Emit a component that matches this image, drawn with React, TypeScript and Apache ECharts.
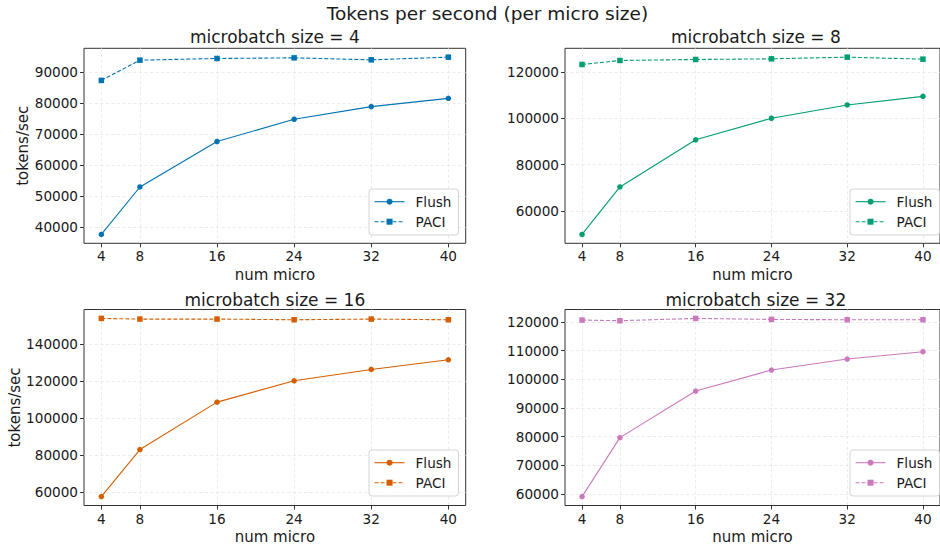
import React, { useEffect, useRef } from "react";
import * as echarts from "echarts";

// ---------- data ----------
const numMicro = [4, 8, 16, 24, 32, 40];
const xTicks = [4, 8, 16, 24, 32, 40];
const microSizes = [4, 8, 16, 32];
const flush4 = [37640, 52980, 67680, 74870, 78950, 81630];
const paci4 = [87430, 93970, 94510, 94720, 94080, 94940];
const flush8 = [50000, 70430, 90710, 100000, 105710, 109430];
const paci8 = [123140, 124860, 125290, 125570, 126290, 125430];
const flush16 = [57660, 83010, 108540, 120050, 126160, 131370];
const paci16 = [153660, 153300, 153300, 152940, 153300, 152940];
const flush32 = [59070, 79650, 95930, 103260, 107090, 109650];
const paci32 = [120700, 120470, 121280, 120930, 120810, 120810];
const yTicks4 = [40000, 50000, 60000, 70000, 80000, 90000];
const yTicks8 = [60000, 80000, 100000, 120000];
const yTicks16 = [60000, 80000, 100000, 120000, 140000];
const yTicks32 = [60000, 70000, 80000, 90000, 100000, 110000, 120000];
const colors = ["#0173b2", "#029e73", "#d55e00", "#cc78bc"];
const seriesNames = ["Flush", "PACI"];
const mainTitle = "Tokens per second (per micro size)";
const xLabel = "num micro";
const yLabel = "tokens/sec";

const flushAll = [flush4, flush8, flush16, flush32];
const paciAll = [paci4, paci8, paci16, paci32];
const yTicksAll = [yTicks4, yTicks8, yTicks16, yTicks32];

const FONT = "DejaVu Sans";
const TXT = "#1a1a1a";
const SPINE = "#333333";

// layout of the four panels
const panels = [
  { left: 84, top: 48.3, height: 195, legLeft: 369, legTop: 189, yNameGap: 38.5, showYName: true },
  { left: 565, top: 48.3, height: 195, legLeft: 850, legTop: 189, yNameGap: 50, showYName: false },
  { left: 84, top: 309.5, height: 196, legLeft: 369, legTop: 450, yNameGap: 55.5, showYName: true },
  { left: 565, top: 309.5, height: 196, legLeft: 850, legTop: 450, yNameGap: 50, showYName: false },
];
const PANEL_W = 381.7;

function margins(vals: number[]) {
  const lo = Math.min(...vals);
  const hi = Math.max(...vals);
  const m = (hi - lo) * 0.05;
  return [lo - m, hi + m];
}

export default function App() {
  const ref = useRef<HTMLDivElement>(null);
  useEffect(() => {
    if (!ref.current) return;
    const chart = echarts.init(ref.current, undefined, { renderer: "svg" });
    const [xmin, xmax] = margins(numMicro);

    const grid: any[] = [];
    const xAxis: any[] = [];
    const yAxis: any[] = [];
    const series: any[] = [];
    const legend: any[] = [];
    const graphic: any[] = [];

    graphic.push({
      type: "text",
      x: 487.5,
      y: 13,
      style: {
        text: mainTitle,
        font: `18.5px "${FONT}"`,
        fill: TXT,
        textAlign: "center",
        textVerticalAlign: "middle",
      },
    });

    panels.forEach((p, i) => {
      const [ymin, ymax] = margins([...flushAll[i], ...paciAll[i]]);
      grid.push({
        left: p.left,
        top: p.top,
        width: PANEL_W,
        height: p.height,
        show: true,
        borderColor: SPINE,
        borderWidth: 1,
        backgroundColor: "transparent",
        containLabel: false,
      });
      const splitLine = {
        show: true,
        lineStyle: { color: "#e6e6e6", width: 0.8, type: [3, 2.5] },
      };
      xAxis.push({
        type: "value",
        gridIndex: i,
        min: xmin,
        max: xmax,
        axisLine: { show: false },
        axisTick: {
          show: true,
          length: 4,
          customValues: xTicks,
          lineStyle: { color: SPINE, width: 1 },
        },
        axisLabel: {
          customValues: xTicks,
          margin: 6,
          fontFamily: FONT,
          fontSize: 13.6,
          color: TXT,
          formatter: (v: number) => String(v),
        },
        splitLine,
        name: xLabel,
        nameLocation: "middle",
        nameGap: 24,
        nameTextStyle: { fontFamily: FONT, fontSize: 15, color: TXT },
      });
      yAxis.push({
        type: "value",
        gridIndex: i,
        min: ymin,
        max: ymax,
        axisLine: { show: false },
        axisTick: {
          show: true,
          length: 4,
          customValues: yTicksAll[i],
          lineStyle: { color: SPINE, width: 1 },
        },
        axisLabel: {
          customValues: yTicksAll[i],
          margin: 6,
          fontFamily: FONT,
          fontSize: 13.6,
          color: TXT,
          formatter: (v: number) => String(Math.round(v)),
        },
        splitLine,
        name: p.showYName ? yLabel : "",
        nameLocation: "middle",
        nameGap: p.yNameGap,
        nameTextStyle: { fontFamily: FONT, fontSize: 15, color: TXT },
      });
      const mb = microSizes[i];
      const c = colors[i];
      series.push({
        type: "line",
        name: `${seriesNames[0]}@${mb}`,
        xAxisIndex: i,
        yAxisIndex: i,
        data: numMicro.map((x, j) => [x, flushAll[i][j]]),
        symbol: "circle",
        symbolSize: 5.5,
        showAllSymbol: true,
        lineStyle: { color: c, width: 1.1, type: "solid" },
        itemStyle: { color: c },
        emphasis: { disabled: true },
      });
      series.push({
        type: "line",
        name: `${seriesNames[1]}@${mb}`,
        xAxisIndex: i,
        yAxisIndex: i,
        data: numMicro.map((x, j) => [x, paciAll[i][j]]),
        symbol: "rect",
        symbolSize: 5.5,
        showAllSymbol: true,
        lineStyle: { color: c, width: 1.1, type: [4, 2] },
        itemStyle: { color: c },
        emphasis: { disabled: true },
      });
      legend.push({
        orient: "vertical",
        left: p.legLeft,
        top: p.legTop,
        data: [`${seriesNames[0]}@${mb}`, `${seriesNames[1]}@${mb}`],
        formatter: (n: string) => n.split("@")[0],
        itemWidth: 30,
        itemHeight: 7.5,
        itemGap: 6,
        padding: [5.7, 7, 6.3, 5],
        borderColor: "#d4d4d4",
        borderWidth: 1,
        borderRadius: 3,
        backgroundColor: "rgba(255,255,255,0.85)",
        selectedMode: false,
        lineStyle: { width: 1.1 },
        textStyle: {
          fontFamily: FONT,
          fontSize: 13.6,
          lineHeight: 14,
          color: TXT,
          padding: [0, 0, 0, 6],
        },
      });
      graphic.push({
        type: "text",
        x: p.left + PANEL_W / 2,
        y: i < 2 ? 36.7 : 300,
        style: {
          text: `microbatch size = ${mb}`,
          font: `17px "${FONT}"`,
          fill: TXT,
          textAlign: "center",
          textVerticalAlign: "middle",
        },
      });
    });

    chart.setOption({
      animation: false,
      backgroundColor: "#ffffff",
      textStyle: { fontFamily: FONT },
      grid,
      xAxis,
      yAxis,
      series,
      legend,
      graphic,
    });
    return () => chart.dispose();
  }, []);

  return (
    <div
      ref={ref}
      style={{ position: "fixed", left: 0, top: 0, width: 940, height: 546 }}
    />
  );
}
